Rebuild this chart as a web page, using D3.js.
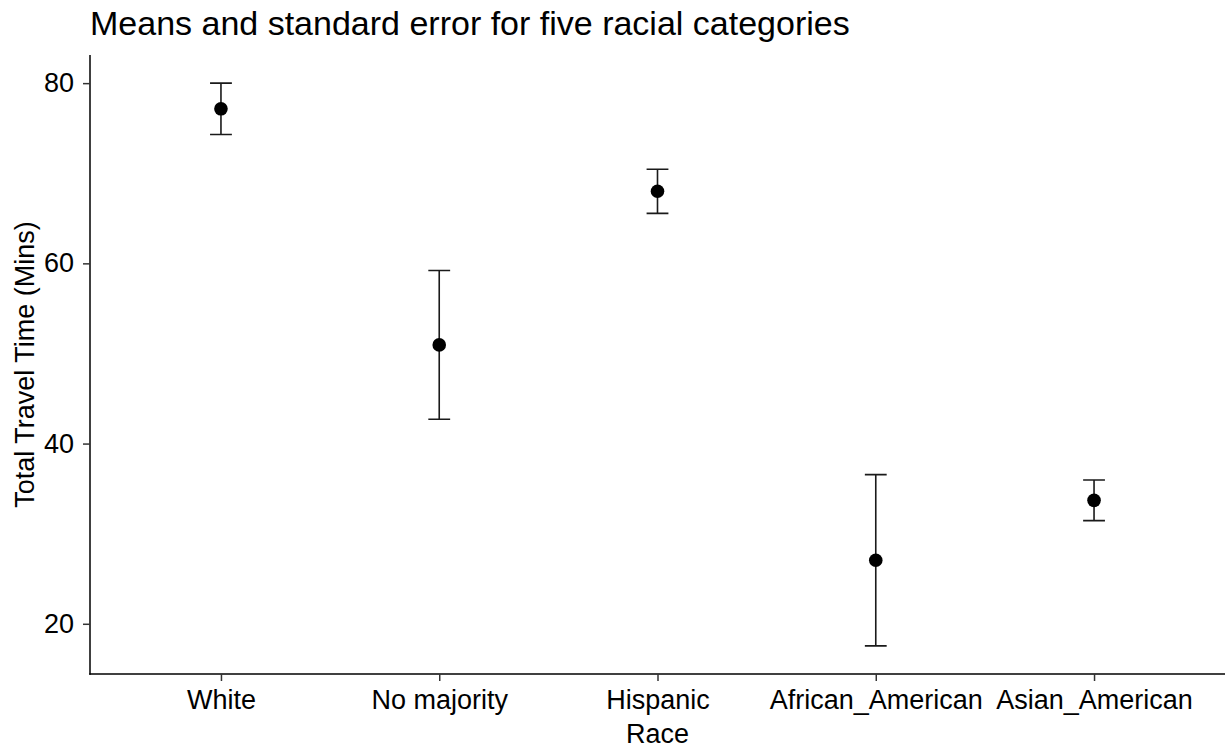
<!DOCTYPE html>
<html>
<head>
<meta charset="utf-8">
<script src="https://cdn.jsdelivr.net/npm/d3@7"></script>
<style>
  html, body { margin: 0; padding: 0; background: #fff; }
  svg { display: block; font-family: "Liberation Sans", Arial, sans-serif; }
</style>
</head>
<body>
<svg id="chart" width="1225" height="749"></svg>
<script>
// Group means and standard errors of total travel time
const categories = ["White", "No majority", "Hispanic", "African_American", "Asian_American"];
const means = [77.15, 50.95, 68.0, 27.05, 33.7];
const stdErrors = [2.85, 8.25, 2.45, 9.5, 2.25];
const yTicks = [20, 40, 60, 80];

const W = 1225, H = 749;
const margin = { top: 55, right: 0, bottom: 75, left: 90 };
const svg = d3.select("#chart");

const x = d3.scalePoint()
  .domain(categories)
  .range([margin.left, W - margin.right])
  .padding(0.6);

const lo = d3.min(means.map((m, i) => m - stdErrors[i]));
const hi = d3.max(means.map((m, i) => m + stdErrors[i]));
const pad = (hi - lo) * 0.05;
const y = d3.scaleLinear()
  .domain([lo - pad, hi + pad])
  .range([H - margin.bottom, margin.top]);

// Title
svg.append("text")
  .attr("x", margin.left)
  .attr("y", 35)
  .attr("font-size", 34)
  .attr("fill", "#000")
  .text("Means and standard error for five racial categories");

// Axes
const xAxis = svg.append("g")
  .attr("transform", `translate(0,${H - margin.bottom})`)
  .call(d3.axisBottom(x).tickSize(7).tickPadding(9).tickSizeOuter(0));
const yAxis = svg.append("g")
  .attr("transform", `translate(${margin.left},0)`)
  .call(d3.axisLeft(y).tickValues(yTicks).tickSize(7).tickPadding(9).tickSizeOuter(0));

[xAxis, yAxis].forEach(g => {
  g.select(".domain").attr("stroke", "#000").attr("stroke-width", 1.5);
  g.selectAll(".tick line").attr("stroke", "#333").attr("stroke-width", 1.5);
  g.selectAll(".tick text").attr("font-size", 27).attr("fill", "#000")
    .attr("font-family", "Liberation Sans, Arial, sans-serif");
});
// join the two axis lines at the corner
xAxis.select(".domain").attr("d", `M${margin.left - 0.75},0H${W - margin.right}`);
yAxis.select(".domain").attr("d", `M0,${margin.top}V${H - margin.bottom + 0.75}`);

// Axis titles
svg.append("text")
  .attr("x", (margin.left + W - margin.right) / 2)
  .attr("y", 743)
  .attr("text-anchor", "middle")
  .attr("font-size", 27)
  .text("Race");
svg.append("text")
  .attr("transform", `translate(34,${(margin.top + H - margin.bottom) / 2}) rotate(-90)`)
  .attr("text-anchor", "middle")
  .attr("font-size", 27)
  .text("Total Travel Time (Mins)");

// Error bars
const capHalf = x.step() * 0.05;
const bars = svg.append("g").attr("stroke", "#1a1a1a").attr("stroke-width", 1.6).attr("fill", "none");
categories.forEach((c, i) => {
  const cx = x(c);
  const yTop = y(means[i] + stdErrors[i]);
  const yBot = y(means[i] - stdErrors[i]);
  bars.append("path")
    .attr("d", `M${cx - capHalf},${yTop}H${cx + capHalf}M${cx},${yTop}V${yBot}M${cx - capHalf},${yBot}H${cx + capHalf}`);
});

// Means
svg.append("g").selectAll("circle")
  .data(categories)
  .join("circle")
  .attr("cx", d => x(d))
  .attr("cy", (d, i) => y(means[i]))
  .attr("r", 6.8)
  .attr("fill", "#000");
</script>
</body>
</html>
